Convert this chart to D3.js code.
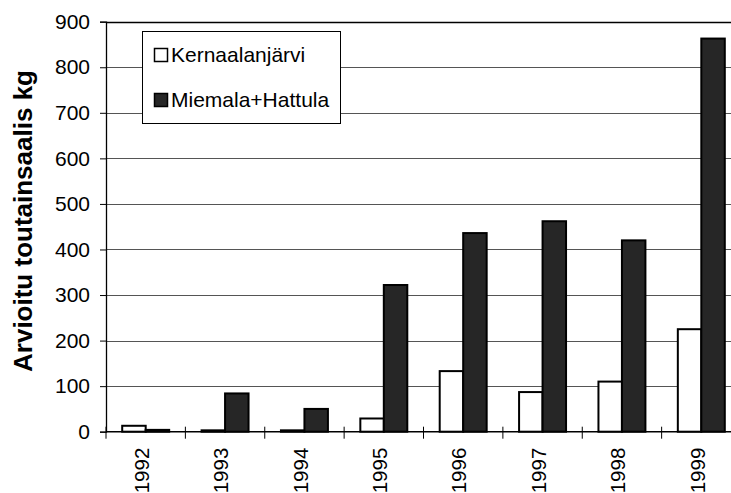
<!DOCTYPE html>
<html>
<head>
<meta charset="utf-8">
<script src="https://cdn.jsdelivr.net/npm/d3@7"></script>
<style>
  body { margin: 0; background: #fff; }
  svg { display: block; font-family: "Liberation Sans", Arial, sans-serif; }
</style>
</head>
<body>
<div id="chart"></div>
<script>
// data
var years = ["1992", "1993", "1994", "1995", "1996", "1997", "1998", "1999"];
var seriesNames = ["Kernaalanjärvi", "Miemala+Hattula"];
var kernaala = [13, 3, 3, 29, 133, 87, 110, 225];
var miemala = [4, 84, 50, 322, 436, 462, 420, 863];
var yTicks = [0, 100, 200, 300, 400, 500, 600, 700, 800, 900];
var seriesColors = ["#ffffff", "#262626"];

var svgWidth = 731;
var svgHeight = 493;

var margin = { top: 21.7, left: 106, bottom: 61.3 };
var plotRight = 741; // plot runs past the right edge of the picture
var height = svgHeight - margin.top - margin.bottom;

var svg = d3.select("#chart")
  .append("svg")
  .attr("width", svgWidth)
  .attr("height", svgHeight);

var x0 = d3.scaleBand()
  .domain(years)
  .range([margin.left, plotRight])
  .padding(0);

var x1 = d3.scaleBand()
  .domain(seriesNames)
  .range([0, x0.bandwidth()])
  .paddingInner(0)
  .paddingOuter(0.69);

var y = d3.scaleLinear()
  .domain([0, 900])
  .range([margin.top + height, margin.top]);

// gridlines
svg.append("g")
  .selectAll("line")
  .data(yTicks.filter(d => d > 0 && d < 900))
  .enter()
  .append("line")
  .attr("x1", margin.left)
  .attr("x2", plotRight)
  .attr("y1", d => Math.round(y(d)) + 0.5)
  .attr("y2", d => Math.round(y(d)) + 0.5)
  .attr("stroke", "#555")
  .attr("stroke-width", 1);

// top border line
svg.append("line")
  .attr("x1", margin.left)
  .attr("x2", plotRight)
  .attr("y1", Math.round(y(900)) + 0.5)
  .attr("y2", Math.round(y(900)) + 0.5)
  .attr("stroke", "#000")
  .attr("stroke-width", 1.3);

// bars
var rows = years.map((yr, i) => ({ year: yr, values: [kernaala[i], miemala[i]] }));

var groups = svg.append("g")
  .selectAll("g")
  .data(rows)
  .enter()
  .append("g")
  .attr("transform", d => `translate(${x0(d.year)},0)`);

groups.selectAll("rect")
  .data(d => d.values.map((v, j) => ({ name: seriesNames[j], value: v, j: j })))
  .enter()
  .append("rect")
  .attr("x", d => x1(d.name))
  .attr("y", d => y(d.value))
  .attr("width", x1.bandwidth())
  .attr("height", d => y(0) - y(d.value))
  .attr("fill", d => seriesColors[d.j])
  .attr("stroke", "#000")
  .attr("stroke-width", 2);

// y axis
var leftAxis = d3.axisLeft(y)
  .tickValues(yTicks)
  .tickSize(6)
  .tickPadding(10);

var yAxisG = svg.append("g")
  .attr("transform", `translate(${margin.left},0)`)
  .call(leftAxis);
yAxisG.select(".domain").attr("stroke", "#000").attr("stroke-width", 1.3);
yAxisG.selectAll(".tick line").attr("stroke", "#000");
yAxisG.selectAll(".tick text")
  .attr("font-size", "21px")
  .attr("font-family", "Liberation Sans, Arial, sans-serif")
  .attr("fill", "#000");

// x axis line
svg.append("line")
  .attr("x1", margin.left)
  .attr("x2", plotRight)
  .attr("y1", y(0))
  .attr("y2", y(0))
  .attr("stroke", "#000")
  .attr("stroke-width", 1.5);

// category boundary ticks
svg.append("g")
  .selectAll("line")
  .data(years)
  .enter()
  .append("line")
  .attr("x1", d => x0(d))
  .attr("x2", d => x0(d))
  .attr("y1", y(0) - 5)
  .attr("y2", y(0) + 7)
  .attr("stroke", "#000")
  .attr("stroke-width", 1);

// year labels, rotated
svg.append("g")
  .selectAll("text")
  .data(years)
  .enter()
  .append("text")
  .attr("transform", d => `translate(${x0(d) + x0.bandwidth() / 2 - 4}, ${y(0) + 16}) rotate(-90)`)
  .attr("dy", "0.35em")
  .attr("text-anchor", "end")
  .attr("font-size", "20.5px")
  .attr("fill", "#000")
  .text(d => d);

// y axis title
svg.append("text")
  .attr("transform", `translate(32, 221) rotate(-90)`)
  .attr("text-anchor", "middle")
  .attr("font-size", "26px")
  .attr("font-weight", "bold")
  .attr("fill", "#000")
  .text("Arvioitu toutainsaalis kg");

// legend
var legend = svg.append("g");
legend.append("rect")
  .attr("x", 142.5)
  .attr("y", 31.5)
  .attr("width", 198)
  .attr("height", 92)
  .attr("fill", "#fff")
  .attr("stroke", "#000")
  .attr("stroke-width", 1);

var legendItems = legend.selectAll("g")
  .data(seriesNames)
  .enter()
  .append("g")
  .attr("transform", (d, i) => `translate(154, ${48 + i * 45})`);

legendItems.append("rect")
  .attr("x", 0.5)
  .attr("y", 0.5)
  .attr("width", 13)
  .attr("height", 13)
  .attr("fill", (d, i) => seriesColors[i])
  .attr("stroke", "#000")
  .attr("stroke-width", 1.5);

legendItems.append("text")
  .attr("x", 17)
  .attr("y", 14)
  .attr("font-size", "21px")
  .attr("fill", "#000")
  .text(d => d);
</script>
</body>
</html>
